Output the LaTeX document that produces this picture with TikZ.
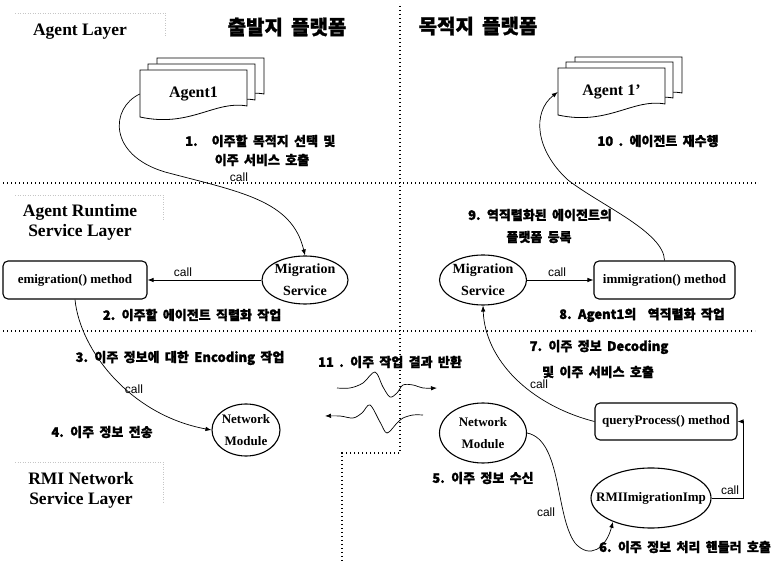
\documentclass[tikz,border=0pt]{standalone}
\usepackage{fontspec}
\setmainfont{Liberation Serif}
\newfontfamily\kr[WordSpace=1.8, BoldFeatures={FakeBold=1.2}]{Noto Sans CJK KR}
\newfontfamily\callfont{Liberation Sans}
\usetikzlibrary{arrows.meta,shapes.geometric}
\begin{document}
\begin{tikzpicture}[x=1pt,y=-1pt,
  kor/.style={font={\kr\bfseries\fontsize{13}{16}\selectfont}, inner sep=0pt},
  korbig/.style={font={\kr\bfseries\fontsize{20}{24}\selectfont}, inner sep=0pt},
  layer/.style={font={\bfseries\fontsize{17.5}{20}\selectfont}, align=center, inner sep=0pt},
  calltxt/.style={font={\callfont\fontsize{12}{14}\selectfont}, inner sep=0pt},
  ell/.style={ellipse, draw, line width=1.1pt, inner sep=0pt},
  etext/.style={font={\bfseries\fontsize{13}{22}\selectfont}, align=center, inner sep=0pt},
  mtext/.style={font={\bfseries\fontsize{14}{22}\selectfont}, align=center, inner sep=0pt},
  mbox/.style={rectangle, rounded corners=5pt, draw, line width=1.1pt, inner sep=0pt, font={\bfseries\fontsize{13}{16}\selectfont}},
  conn/.style={line width=0.7pt, -{Latex[length=6pt,width=4.5pt]}},
  divider/.style={line width=1.2pt, dash pattern=on 1.2pt off 2.8pt},
  faint/.style={gray!45, line width=0.6pt, dash pattern=on 1pt off 1.5pt},
  docsheet/.pic={\filldraw[fill=white, line width=0.8pt] (0,0) -- (107,0) -- (107,36) .. controls (75,30) and (50,58) .. (0,47) -- cycle;}
]
\fill[white] (0,0) rectangle (780,561);
\useasboundingbox (0,0) rectangle (780,561);

% dividers
\draw[divider] (3,183) -- (757,183);
\draw[divider] (3,331) -- (755,331);
\draw[divider] (400,6) -- (400,453) -- (342,453) -- (342,561);

% faint label frames
\draw[faint] (15,13) -- (165,13) -- (165,37);
\draw[faint] (15,195) -- (163,195) -- (163,222);
\draw[faint] (15,462) -- (163,462) -- (163,504);

% titles and layer names
\node[korbig] (t1) at (287,27) {출발지 플랫폼};
\node[korbig] (t2) at (478,26) {목적지 플랫폼};
\node[layer] (la) at (80,32) {Agent Layer};
\node[layer] (lb) at (80,222) {Agent Runtime\\Service Layer};
\node[layer] (lc) at (81,490) {RMI Network\\Service Layer};

% agents
\pic at (157,58) {docsheet};
\pic at (148,64) {docsheet};
\pic at (140,70) {docsheet};
\node[font={\bfseries\fontsize{16}{18}\selectfont}, minimum width=107pt, minimum height=48pt, inner sep=0pt] (agentA) at (193.5,94) {Agent1};
\pic at (575,57) {docsheet};
\pic at (566,62) {docsheet};
\pic at (558,68) {docsheet};
\node[font={\bfseries\fontsize{16}{18}\selectfont}, minimum width=107pt, minimum height=48pt, inner sep=0pt] (agentB) at (611.5,92) {Agent 1’};

% runtime layer nodes
\node[ell, minimum width=86pt, minimum height=48pt] (msL) at (305,280) {};
\node[mtext] (msLt) at (msL) {Migration\\Service};
\node[ell, minimum width=87pt, minimum height=50pt] (msR) at (483,280) {};
\node[mtext] (msRt) at (msR) {Migration\\Service};
\node[mbox, minimum width=144pt, minimum height=38pt] (emi) at (75,280) {emigration() method};
\node[mbox, minimum width=141pt, minimum height=38pt] (imm) at (664.5,280) {immigration() method};

% network layer nodes
\node[ell, minimum width=68pt, minimum height=52pt] (nmL) at (246,430) {};
\node[etext] (nmLt) at (nmL) {Network\\Module};
\node[ell, minimum width=87pt, minimum height=60pt] (nmR) at (483,433) {};
\node[etext] (nmRt) at (nmR) {Network\\Module};
\node[mbox, minimum width=142pt, minimum height=37pt] (qp) at (666,421.5) {queryProcess() method};
\node[ell, minimum width=120pt, minimum height=60pt] (rmi) at (651,498) {};
\node[etext] (rmit) at (rmi) {RMIImigrationImp};

% connectors
\draw[conn] (agentA.west) .. controls (110,108) and (108,155) .. (165,172) .. controls (240,192) and (292,200) .. (msL.north);
\draw[conn] (msL.west) -- (emi.east);
\draw[conn] (msR.east) -- (imm.west);
\draw[conn] (imm.north) .. controls (664,232) and (600,205) .. (568,180) .. controls (535,150) and (532,112) .. (agentB.west);
\draw[conn] (emi.south) .. controls (80,350) and (130,415) .. (nmL.west);
\draw[conn] (qp.west) .. controls (530,405) and (485,360) .. (msR.south);
\draw[conn] (nmR.east) .. controls (562,440) and (555,515) .. (575,543) .. controls (590,560) and (606,548) .. (rmi.212);
\draw[conn] (rmi.east) -- ++(32,0) |- (qp.east);

% result waves
\draw[conn] plot[smooth, tension=0.55] coordinates {(337,388) (350,388) (363,383) (375,372) (383,387) (390,397) (397,393) (403,385) (413,385) (423,388) (437,388)};
\draw[conn] plot[smooth, tension=0.55] coordinates {(423,415) (413,415) (403,418) (397,423) (387,433) (380,422) (370,405) (362,413) (353,418) (340,416) (325,416)};

% step labels
\node[kor, anchor=west] (s1a) at (185,141) {1.\hspace{14pt}이주할 목적지 선택 및};
\node[kor] (s1b) at (262,160) {이주 서비스 호출};
\node[calltxt] (c1) at (239,177) {call};
\node[kor] (s10) at (658,141) {10 . 에이전트 재수행};
\node[kor] (s2) at (192,315) {2. 이주할 에이전트 직렬화 작업};
\node[calltxt] (c2) at (183,272) {call};
\node[kor] (s9a) at (540,215) {9. 역직렬화된 에이전트의};
\node[kor] (s9b) at (539,237) {플랫폼 등록};
\node[calltxt] (c3) at (557,272) {call};
\node[kor] (s8) at (642,315) {8. Agent1의\hspace{6pt} 역직렬화 작업};
\node[kor] (s3) at (180,358) {3. 이주 정보에 대한 Encoding 작업};
\node[calltxt] (c4) at (134,389) {call};
\node[kor] (s4) at (102,432) {4. 이주 정보 전송};
\node[kor] (s11) at (390,362) {11 . 이주 작업 결과 반환};
\node[kor] (s7a) at (599,347) {7. 이주 정보 Decoding};
\node[kor] (s7b) at (598,372) {및 이주 서비스 호출};
\node[calltxt] (c5) at (539,384) {call};
\node[kor] (s5) at (483,478) {5. 이주 정보 수신};
\node[calltxt] (c6) at (546,512) {call};
\node[calltxt] (c7) at (730,490) {call};
\node[kor] (s6) at (685,547) {6. 이주 정보 처리 핸들러 호출};
\end{tikzpicture}
\end{document}
